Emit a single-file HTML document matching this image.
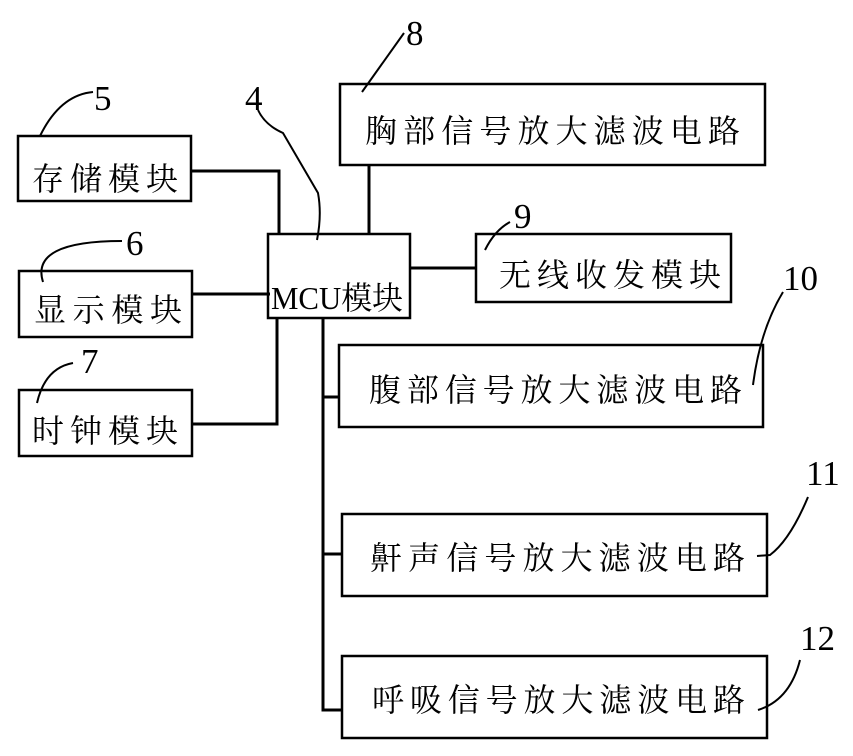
<!DOCTYPE html>
<html><head><meta charset="utf-8"><style>
html,body{margin:0;padding:0;background:#fff;}
svg{display:block;}
.t{font-family:"Liberation Serif","Noto Serif CJK SC",serif;font-size:32px;fill:#000;}
.n{font-family:"Liberation Serif",serif;font-size:35px;fill:#000;}
</style></head><body>
<svg width="853" height="756" viewBox="0 0 853 756" xmlns="http://www.w3.org/2000/svg">
<g fill="none" stroke="#000" stroke-width="2.5">
<rect x="18" y="136" width="173" height="65"/>
<rect x="19" y="271" width="173" height="66"/>
<rect x="19" y="390" width="173" height="66"/>
<rect x="268" y="234" width="142" height="84"/>
<rect x="340" y="84" width="425" height="81"/>
<rect x="476" y="234" width="255" height="68"/>
<rect x="339" y="345" width="424" height="82"/>
<rect x="342" y="514" width="425" height="82"/>
<rect x="342" y="656" width="425" height="82"/>
</g>
<g fill="none" stroke="#000" stroke-width="3">
<polyline points="191,171 279,171 279,234"/>
<line x1="192" y1="294" x2="270" y2="294"/>
<polyline points="192,424 277,424 277,318"/>
<line x1="369" y1="165" x2="369" y2="234"/>
<line x1="410" y1="268" x2="476" y2="268"/>
<polyline points="323,318 323,710 342,710"/>
<line x1="323" y1="397" x2="339" y2="397"/>
<line x1="323" y1="554" x2="342" y2="554"/>
</g>
<g fill="none" stroke="#000" stroke-width="2">
<path d="M40,136 Q60,95 93,92"/>
<path d="M43,282 Q30,241 122,241"/>
<path d="M37,403 Q45,368 73,363"/>
<path d="M258,110 Q265,125 283,133 L318,193 Q322,215 317,240"/>
<path d="M362,92 L404,33"/>
<path d="M485,250 Q495,230 510,222"/>
<path d="M753,385 Q760,330 783,292"/>
<path d="M757,556 L770,555 Q790,540 808,497"/>
<path d="M758,710 Q790,700 800,660"/>
</g>
<text class="n" x="94" y="110">5</text>
<text class="n" x="126" y="255">6</text>
<text class="n" x="81" y="373">7</text>
<text class="n" x="245" y="110">4</text>
<text class="n" x="406" y="45">8</text>
<text class="n" x="514" y="228">9</text>
<text class="n" x="783" y="290">10</text>
<text class="n" x="806" y="485">11</text>
<text class="n" x="800" y="650">12</text>
<text class="t" x="32" y="190" textLength="146" lengthAdjust="spacing">存储模块</text>
<text class="t" x="34" y="321" textLength="148" lengthAdjust="spacing">显示模块</text>
<text class="t" x="32" y="442" textLength="146" lengthAdjust="spacing">时钟模块</text>
<text class="t" x="271" y="309" font-size="34" textLength="132" lengthAdjust="spacingAndGlyphs">MCU模块</text>
<text class="t" x="365" y="142" textLength="375" lengthAdjust="spacing">胸部信号放大滤波电路</text>
<text class="t" x="499" y="286" textLength="222" lengthAdjust="spacing">无线收发模块</text>
<text class="t" x="369" y="401" textLength="373" lengthAdjust="spacing">腹部信号放大滤波电路</text>
<text class="t" x="370" y="569" textLength="375" lengthAdjust="spacing">鼾声信号放大滤波电路</text>
<text class="t" x="372" y="711" textLength="373" lengthAdjust="spacing">呼吸信号放大滤波电路</text>
</svg>
</body></html>
